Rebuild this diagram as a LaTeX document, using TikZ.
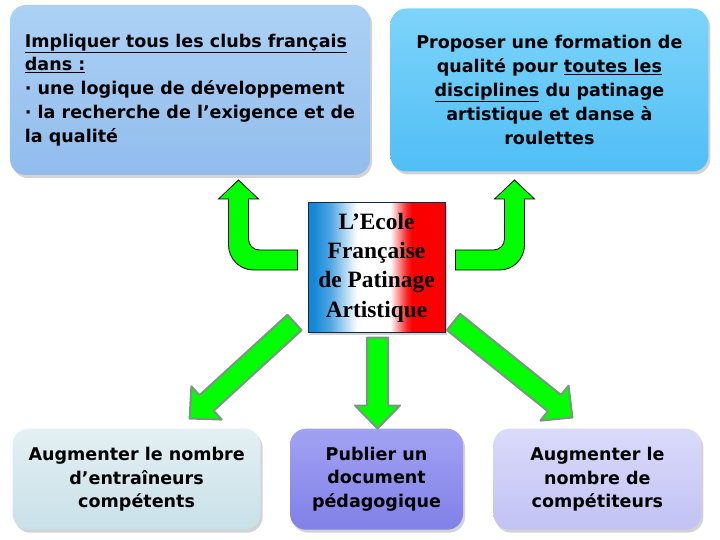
\documentclass[tikz,border=0pt]{standalone}
\usepackage{fontspec}
\setmainfont{DejaVu Sans}
\newfontfamily\titlefont{Liberation Serif}
\usetikzlibrary{calc,positioning,shadows}
\definecolor{arrgreen}{RGB}{0,255,0}
\definecolor{arrgray}{RGB}{120,150,130}
\definecolor{fblue}{RGB}{20,135,215}
\definecolor{fred}{RGB}{250,0,0}
\definecolor{navy}{RGB}{15,40,70}
\pgfdeclarehorizontalshading{tricolore}{100bp}{color(0bp)=(fblue); color(27bp)=(fblue); color(33bp)=(fblue!75!white); color(43bp)=(white); color(55bp)=(white); color(61bp)=(fred!85!white); color(63bp)=(fred); color(100bp)=(fred)}
% block arrow from #1 to #2
\newcommand{\blockarrow}[2]{%
  \coordinate (ah) at ($(#2)!23bp!(#1)$);
  \draw[garrow] ($(#1)!10.5bp!90:(#2)$) -- ($(ah)!10.5bp!90:(#2)$) -- ($(ah)!22.5bp!90:(#2)$) -- (#2)
    -- ($(ah)!22.5bp!-90:(#2)$) -- ($(ah)!10.5bp!-90:(#2)$) -- ($(#1)!10.5bp!-90:(#2)$) -- cycle;}
\begin{document}
\begin{tikzpicture}[x=1bp, y=-1bp,
  goal/.style = {rounded corners=16bp, align=center, inner sep=0pt,
    font=\bfseries\fontsize{17.6}{24}\selectfont,
    drop shadow={shadow xshift=2bp, shadow yshift=-3bp, opacity=.35}},
  school/.style = {draw=navy, line width=1bp, shading=tricolore, align=center,
    minimum width=137bp, minimum height=129bp, inner sep=0pt,
    font=\titlefont\bfseries\fontsize{23.5}{29.5}\selectfont,
    drop shadow={shadow xshift=2bp, shadow yshift=-3bp, opacity=.35}},
  uarr/.style = {draw=black, line width=.8bp, fill=arrgreen},
  garrow/.style = {draw=arrgray, line width=2bp, fill=arrgreen, line join=round},
  uturn/.pic = {\draw[uarr] (0,-10) -- (0,10) -- (-44,10) .. controls (-57.8,10) and (-69,-1.2) .. (-69,-15)
    -- (-69,-61) -- (-79,-61) -- (-59,-80) -- (-39,-61) -- (-49,-61) -- (-49,-21)
    .. controls (-49,-14.9) and (-44.1,-10) .. (-38,-10) -- cycle;}]
\useasboundingbox (0,0) rectangle (720,540);
\node[goal, align=left, minimum width=360bp, minimum height=170bp,
  top color={rgb,255:red,172;green,209;blue,245}, bottom color={rgb,255:red,145;green,188;blue,236}] (tl) at (190,90)
  {\underline{Impliquer tous les clubs français}\\ \underline{dans :}\\ · une logique de développement\\ · la recherche de l’exigence et de\\ la qualité};
\node[goal, minimum width=318bp, minimum height=163bp, right=20bp of tl,
  top color={rgb,255:red,125;green,212;blue,250}, bottom color={rgb,255:red,80;green,190;blue,245}] (tr)
  {Proposer une formation de\\ qualité pour \underline{toutes les}\\ \underline{disciplines} du patinage\\ artistique et danse à\\ roulettes};
\node[school] (ctr) at (376.5,267.5) {L’Ecole\\ Française\\ de Patinage\\ Artistique};
\node[goal, minimum width=173bp, minimum height=101bp, below=96bp of ctr,
  top color={rgb,255:red,162;green,162;blue,243}, bottom color={rgb,255:red,128;green,128;blue,232}] (bm)
  {Publier un\\ document\\ pédagogique};
\node[goal, minimum width=248bp, minimum height=101bp, left=29bp of bm,
  top color={rgb,255:red,228;green,240;blue,244}, bottom color={rgb,255:red,200;green,224;blue,232}] (bl)
  {Augmenter le nombre\\ d’entraîneurs\\ compétents};
\node[goal, minimum width=208bp, minimum height=101bp, right=30bp of bm,
  top color={rgb,255:red,218;green,218;blue,251}, bottom color={rgb,255:red,194;green,194;blue,244}] (br)
  {Augmenter le\\ nombre de\\ compétiteurs};
% u-turn arrows to the top boxes
\coordinate (lu) at ($(ctr.west)+(-10,-7.5)$);
\coordinate (ru) at ($(ctr.east)+(10,-7.5)$);
\pic at (lu) {uturn};
\pic[xscale=-1] at (ru) {uturn};
% arrows to the bottom boxes
\coordinate (dl0) at ($(ctr.south west)+(-13,-10)$);
\coordinate (dl1) at ($(bl.north)+(53,-10)$);
\coordinate (dm0) at ($(ctr.south)+(1,5)$);
\coordinate (dm1) at (dm0 |- bm.north);
\coordinate (dr0) at ($(ctr.south east)+(8,-10.5)$);
\coordinate (dr1) at ($(br.north)+(-25,-11)$);
\blockarrow{dl0}{dl1}
\blockarrow{dm0}{dm1}
\blockarrow{dr0}{dr1}
\end{tikzpicture}
\end{document}
